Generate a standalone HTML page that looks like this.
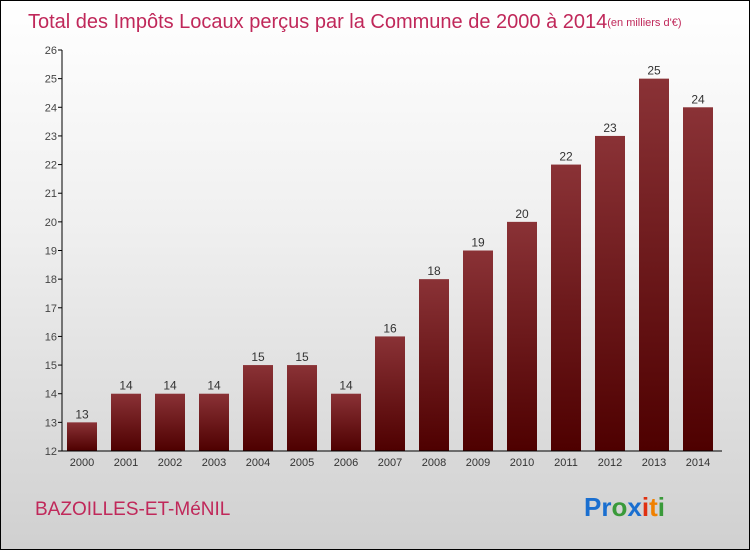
<!DOCTYPE html>
<html><head><meta charset="utf-8"><style>
body{margin:0}
#c{position:relative;width:748px;height:548px;border:1px solid #000;background:linear-gradient(#ffffff 0%,#f0f0f0 40%,#d0d0d0 100%);font-family:"Liberation Sans",sans-serif;overflow:hidden}
</style></head><body>
<div id="c">
<svg width="748" height="548">
<defs><linearGradient id="bg" x1="0" x2="0" y1="0" y2="1"><stop offset="0" stop-color="#8a3236"/><stop offset="1" stop-color="#4e0000"/></linearGradient></defs>
<text x="27" y="27" font-size="20" fill="#c0285a">Total des Impôts Locaux perçus par la Commune de 2000 à 2014<tspan font-size="11" dy="-2">(en milliers d'€)</tspan></text>
<g id="plot"></g>
<text x="34" y="514" font-size="19" fill="#c0285a">BAZOILLES-ET-MéNIL</text>
<text x="583" y="515" font-size="26" font-weight="bold"><tspan fill="#1a6fd0">Pr</tspan><tspan fill="#3a9a3a">o</tspan><tspan fill="#1a6fd0">x</tspan><tspan fill="#e03010">i</tspan><tspan fill="#f08000">t</tspan><tspan fill="#3a9a3a">i</tspan></text>
</svg>
</div>
<script>
const categories=["2000","2001","2002","2003","2004","2005","2006","2007","2008","2009","2010","2011","2012","2013","2014"];
const values=[13,14,14,14,15,15,14,16,18,19,20,22,23,25,24];
const yTicks=[12,13,14,15,16,17,18,19,20,21,22,23,24,25,26];
(function(){
const NS="http://www.w3.org/2000/svg";
const g=document.getElementById('plot');
const yMin=12,yMax=26,plotTop=49,bot=450,left=61,right=721;
const y=v=>bot-(v-yMin)/(yMax-yMin)*(bot-plotTop);
const x=i=>81+i*44;
function mk(t,a){const e=document.createElementNS(NS,t);for(const k in a)e.setAttribute(k,a[k]);g.appendChild(e);return e;}
yTicks.forEach(t=>{
 const l=mk('line',{x1:left-4,x2:left,y1:y(t),y2:y(t),stroke:'#000'});
 
 
 const tx=mk('text',{x:left-5,y:y(t)+4,'font-size':11,fill:'#444','text-anchor':'end'});
 tx.textContent=t;
 
 
});
categories.forEach((c,i)=>{
 const v=values[i];
 const r=mk('rect',{x:x(i)-15,y:y(v),width:30,height:bot-y(v),fill:'url(#bg)'});
 
 
 const vt=mk('text',{x:x(i),y:y(v)-4,'font-size':12,fill:'#333','text-anchor':'middle'});
 vt.textContent=v;
 
 
 const xt=mk('text',{x:x(i),y:bot+15,'font-size':11,fill:'#333','text-anchor':'middle'});
 xt.textContent=c;
 
 
});
const ya=mk('line',{x1:left,x2:left,y1:plotTop,y2:bot,stroke:'#000'});


const xa=mk('line',{x1:left,x2:right,y1:bot,y2:bot,stroke:'#000'});


})();
</script>
</body></html>
